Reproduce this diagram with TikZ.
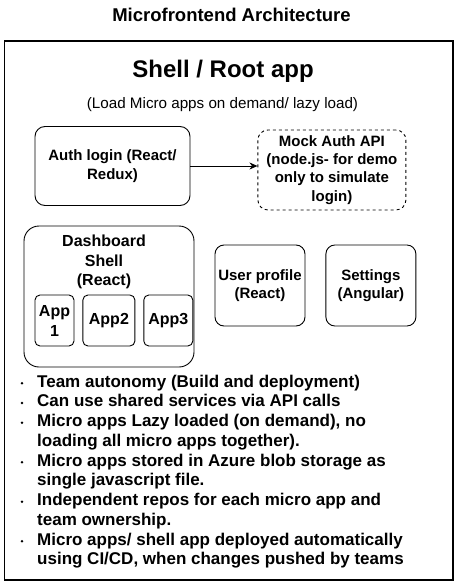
\documentclass[tikz,border=0pt]{standalone}
\usepackage{fontspec}
\setmainfont{Liberation Sans}
\usetikzlibrary{positioning,arrows.meta}

\tikzset{
  rbox/.style={draw, line width=0.9pt, rounded corners=#1, align=center, inner sep=2pt,
    font=\bfseries\fontsize{15}{18.3}\selectfont},
  rbox/.default=9pt,
  appbox/.style={draw, line width=0.9pt, rounded corners=5pt, align=center, inner sep=1pt,
    minimum height=51pt, font=\bfseries\fontsize{16}{20}\selectfont},
  listline/.style={anchor=base west, inner sep=0pt, font=\bfseries\fontsize{17}{19.8}\selectfont},
}

\begin{document}
\begin{tikzpicture}[x=1pt,y=-1pt]
  \useasboundingbox (0,0) rectangle (455,586);

  \node[anchor=base, font=\bfseries\fontsize{18.5}{22}\selectfont] (title) at (231.5,21.7) {Microfrontend Architecture};
  \node[draw, line width=1.1pt, minimum width=448.5pt, minimum height=539pt] (frame) at (228.75,310.5) {};

  \node[anchor=base, font=\bfseries\fontsize{24}{28}\selectfont] (shell) at (223,77.7) {Shell / Root app};
  \node[anchor=base, font=\fontsize{15.2}{18}\selectfont] (lazy) at (222.5,108.3) {(Load Micro apps on demand/ lazy load)};

  \node[rbox=10pt, minimum width=155pt, minimum height=79pt] (auth) at (112.5,166) {Auth login (React/\\Redux)};
  \node[rbox=10pt, dashed, minimum width=148pt, minimum height=80pt] (mock) [right=67pt of auth, yshift=-4pt] {Mock Auth API\\(node.js- for demo\\only to simulate\\login)};

  \draw[-{Stealth[length=8pt,width=7pt]}, line width=0.8pt] (auth.east) -- (auth.east -| mock.west);

  \node[draw, line width=0.9pt, rounded corners=15pt, minimum width=170pt, minimum height=141pt] (dash) at (109,296.5) {};
  \node[align=center, font=\bfseries\fontsize{16}{19.5}\selectfont] (dashlbl) at (104,262) {Dashboard\\Shell\\(React)};
  \node[appbox, minimum width=39pt] (app1) at (54.5,320.5) {App\\1};
  \node[appbox, minimum width=52pt] (app2) [right=8pt of app1] {App2};
  \node[appbox, minimum width=49pt] (app3) [right=8pt of app2] {App3};

  \node[rbox, minimum width=90pt, minimum height=81pt] (profile) at (260,285.5) {User profile\\(React)};
  \node[rbox, minimum width=90pt, minimum height=81pt] (settings) [right=20pt of profile] {Settings\\(Angular)};

  % bullet list
  \foreach \txt [count=\i from 0] in {Team autonomy (Build and deployment),
      Can use shared services via API calls,
      {Micro apps Lazy loaded (on demand), no},
      loading all micro apps together).,
      Micro apps stored in Azure blob storage as,
      single javascript file.,
      Independent repos for each micro app and,
      team ownership.,
      Micro apps/ shell app deployed automatically,
      {using CI/CD, when changes pushed by teams}}
    \node[listline] (line\i) at (37,387+19.75*\i) {\txt};
  \foreach \b in {0,1,2,4,6,8}
    \fill (22,383.3+19.75*\b) circle (1.4pt);

\end{tikzpicture}
\end{document}
